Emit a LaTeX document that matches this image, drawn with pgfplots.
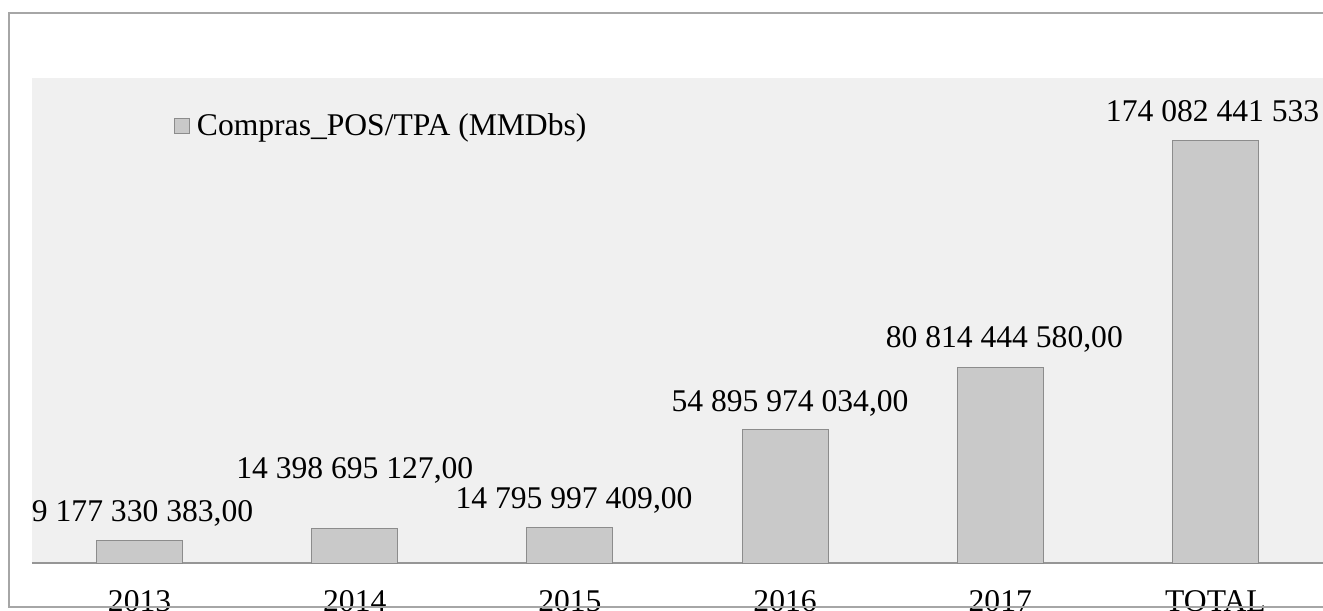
\documentclass[border=0pt]{standalone}
\usepackage{fontspec}
\setmainfont{Liberation Serif}
\usepackage{pgfplots}
\pgfplotsset{compat=1.18}
\definecolor{bgray}{HTML}{F0F0F0}
\definecolor{barfill}{HTML}{C9C9C9}
\definecolor{bardraw}{HTML}{8C8C8C}
\definecolor{framec}{HTML}{A6A6A6}
\definecolor{basec}{HTML}{969696}
\newcommand\lf{\fontsize{23.7pt}{28pt}\selectfont}
\begin{document}
\begin{tikzpicture}
\useasboundingbox (0,0) rectangle (992.25pt,457.5pt);
\clip (0,0) rectangle (992.25pt,457.5pt);
\begin{axis}[at={(24pt,35.25pt)}, anchor=south west, scale only axis,
 width=968.25pt, height=363.75pt,
 xmin=-0.5, xmax=5.5, ymin=0, ymax=2e11,
 axis y line=none, axis x line*=bottom,
 x axis line style={draw=basec, line width=0.9pt, -},
 xtick={0,...,5}, xticklabels={2013,2014,2015,2016,2017,TOTAL},
 major tick length=0pt,
 xticklabel style={font=\lf, anchor=base, yshift=-36pt, inner sep=0pt},
 axis background/.style={fill=bgray},
 ybar, bar width=64.5pt, clip=false,
 legend style={at={(0.110,0.901)}, anchor=west, draw=none, fill=none,
   inner sep=0pt, font=\lf, column sep=5pt, nodes={inner sep=0pt}},
 legend image code/.code={\draw[fill=barfill,draw=bardraw,line width=0.75pt] (0pt,-5.6pt) rectangle (11.25pt,5.6pt);},
]
\addplot[fill=barfill, draw=bardraw, line width=0.75pt] coordinates {
 (0,9177330383) (1,14398695127) (2,14795997409) (3,54895974034) (4,80814444580) (5,174082441533)};
\addlegendentry{Compras\_POS/TPA (MMDbs)}
\node[font=\lf, anchor=base, inner sep=0pt] at (axis cs:0.014,16.91e9) {9 177 330 383,00};
\node[font=\lf, anchor=base, inner sep=0pt] at (axis cs:1.0,35.05e9) {14 398 695 127,00};
\node[font=\lf, anchor=base, inner sep=0pt] at (axis cs:2.019,22.68e9) {14 795 997 409,00};
\node[font=\lf, anchor=base, inner sep=0pt] at (axis cs:3.023,62.68e9) {54 895 974 034,00};
\node[font=\lf, anchor=base, inner sep=0pt] at (axis cs:4.019,89.07e9) {80 814 444 580,00};
\node[font=\lf, anchor=base east, inner sep=0pt] at (axis cs:5.484,181.86e9) {174 082 441 533};
\end{axis}
\draw[framec, line width=0.9pt] (6.75pt,2.25pt) rectangle (1000pt,447.75pt);
\end{tikzpicture}
\end{document}
